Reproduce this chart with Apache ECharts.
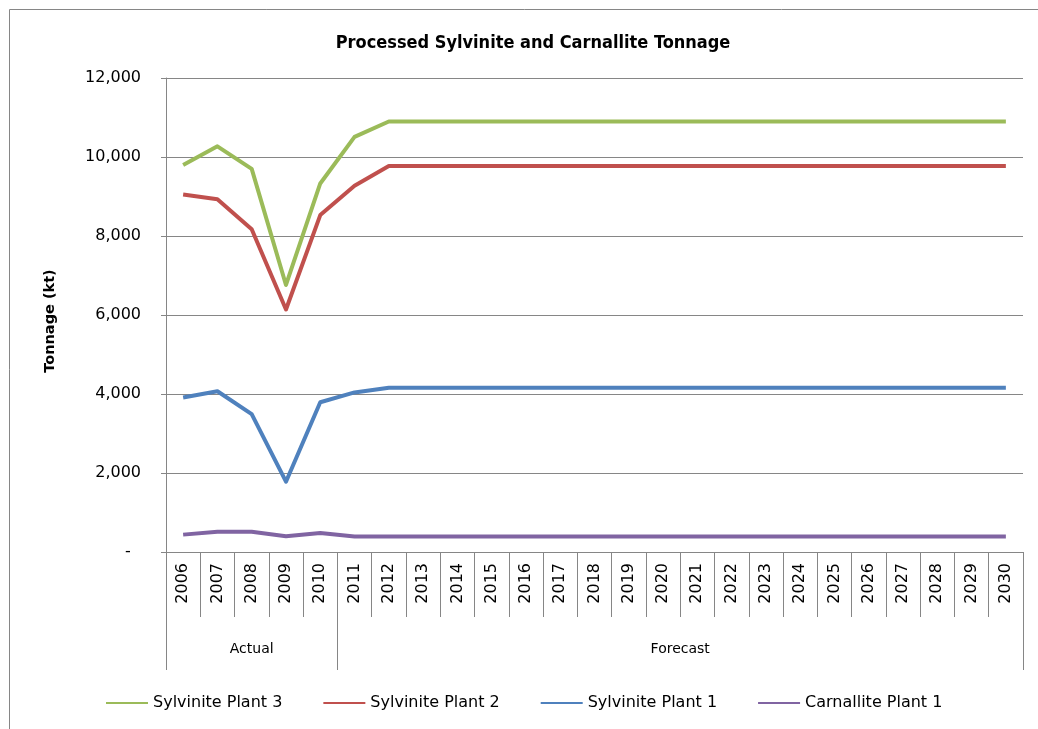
<!DOCTYPE html>
<html>
<head>
<meta charset="utf-8">
<script src="https://cdn.jsdelivr.net/npm/echarts@6/dist/echarts.min.js"></script>
<style>
  html, body { margin: 0; padding: 0; background: #fff; }
  #chart { width: 1038px; height: 729px; }
</style>
</head>
<body>
<div id="chart"></div>
<script>
// Years on the category axis
const years = ['2006','2007','2008','2009','2010','2011','2012','2013','2014','2015','2016','2017','2018',
  '2019','2020','2021','2022','2023','2024','2025','2026','2027','2028','2029','2030'];

// Period groups shown under the years, with the number of years each spans
const groupNames = ['Actual', 'Forecast'];
const groupSpans = [5, 20];

// Processed tonnage per plant (kt)
const sylvinitePlant3 = [9800, 10270, 9700, 6760, 9330, 10510, 10900, 10900, 10900, 10900, 10900, 10900, 10900,
  10900, 10900, 10900, 10900, 10900, 10900, 10900, 10900, 10900, 10900, 10900, 10900];
const sylvinitePlant2 = [9050, 8930, 8170, 6140, 8530, 9270, 9770, 9770, 9770, 9770, 9770, 9770, 9770,
  9770, 9770, 9770, 9770, 9770, 9770, 9770, 9770, 9770, 9770, 9770, 9770];
const sylvinitePlant1 = [3910, 4070, 3490, 1780, 3790, 4040, 4160, 4160, 4160, 4160, 4160, 4160, 4160,
  4160, 4160, 4160, 4160, 4160, 4160, 4160, 4160, 4160, 4160, 4160, 4160];
const carnallitePlant1 = [440, 510, 510, 400, 480, 390, 390, 390, 390, 390, 390, 390, 390,
  390, 390, 390, 390, 390, 390, 390, 390, 390, 390, 390, 390];

// Y axis ticks
const yMin = 0, yMax = 12000, yStep = 2000;

const FONT = '"DejaVu Sans", sans-serif';
const GREY = '#868686';

// Group boundaries and centres in category units
const groupEdges = [0];
groupSpans.forEach(s => groupEdges.push(groupEdges[groupEdges.length - 1] + s));
const groupCentres = groupSpans.map((s, i) => groupEdges[i] + s / 2);

const series = [
  { name: 'Sylvinite Plant 3', data: sylvinitePlant3, color: '#9BBB59' },
  { name: 'Sylvinite Plant 2', data: sylvinitePlant2, color: '#C0504D' },
  { name: 'Sylvinite Plant 1', data: sylvinitePlant1, color: '#4F81BD' },
  { name: 'Carnallite Plant 1', data: carnallitePlant1, color: '#8064A2' }
].map(s => ({
  name: s.name,
  type: 'line',
  data: s.data,
  xAxisIndex: 0,
  symbol: 'none',
  color: s.color,
  lineStyle: { width: 4, color: s.color, join: 'round' },
  animation: false
}));

const chart = echarts.init(document.getElementById('chart'), null, { renderer: 'canvas' });
chart.setOption({
  animation: false,
  backgroundColor: '#fff',
  title: {
    text: 'Processed Sylvinite and Carnallite Tonnage',
    left: 528, top: 29, textAlign: 'center',
    textStyle: { fontFamily: '"DejaVu Sans Condensed", "DejaVu Sans", sans-serif', fontWeight: 'bold', fontSize: 18, color: '#000' }
  },
  graphic: [{
    type: 'rect', silent: true,
    shape: { x: 9.5, y: 9.5, width: 1040, height: 740 },
    style: { fill: null, stroke: GREY, lineWidth: 1 }
  }],
  legend: {
    left: 101, top: 690,
    itemWidth: 42, itemHeight: 14, itemGap: 41,
    icon: 'path://M0,6 L42,6 L42,8 L0,8 Z',
    textStyle: { fontFamily: FONT, fontSize: 16, color: '#000' },
    data: series.map(s => s.name)
  },
  grid: { left: 166, right: 15, top: 78, bottom: 177, containLabel: false },
  xAxis: [{
    type: 'category',
    data: years,
    boundaryGap: true,
    axisLine: { show: true, lineStyle: { color: GREY, width: 1 } },
    axisTick: { show: true, interval: 0, length: 65, lineStyle: { color: GREY } },
    axisLabel: { interval: 0, rotate: 90, margin: 11, fontFamily: FONT, fontSize: 16, color: '#000' },
    splitLine: { show: false }
  }, {
    type: 'value',
    position: 'bottom',
    min: 0, max: years.length,
    axisLine: { show: false },
    axisTick: { show: true, customValues: groupEdges, length: 118, lineStyle: { color: GREY } },
    axisLabel: {
      customValues: groupCentres, margin: 90,
      fontFamily: FONT, fontSize: 14, color: '#000',
      formatter: v => groupNames[groupCentres.indexOf(v)] || ''
    },
    splitLine: { show: false }
  }],
  yAxis: {
    type: 'value',
    min: yMin, max: yMax, interval: yStep,
    name: 'Tonnage (kt)',
    nameLocation: 'middle',
    nameGap: 108,
    nameTextStyle: { fontFamily: FONT, fontWeight: 'bold', fontSize: 14.5, color: '#000', padding: [0, 12, 0, 0] },
    axisLine: { show: true, lineStyle: { color: GREY, width: 1 } },
    axisTick: { show: true, length: 5, lineStyle: { color: GREY } },
    axisLabel: {
      margin: 25, fontFamily: FONT, fontSize: 16, color: '#000',
      formatter: v => v === 0 ? '-  ' : v.toLocaleString('en-US')
    },
    splitLine: { show: true, lineStyle: { color: GREY, width: 1.2 } }
  },
  series: series
});
</script>
</body>
</html>
